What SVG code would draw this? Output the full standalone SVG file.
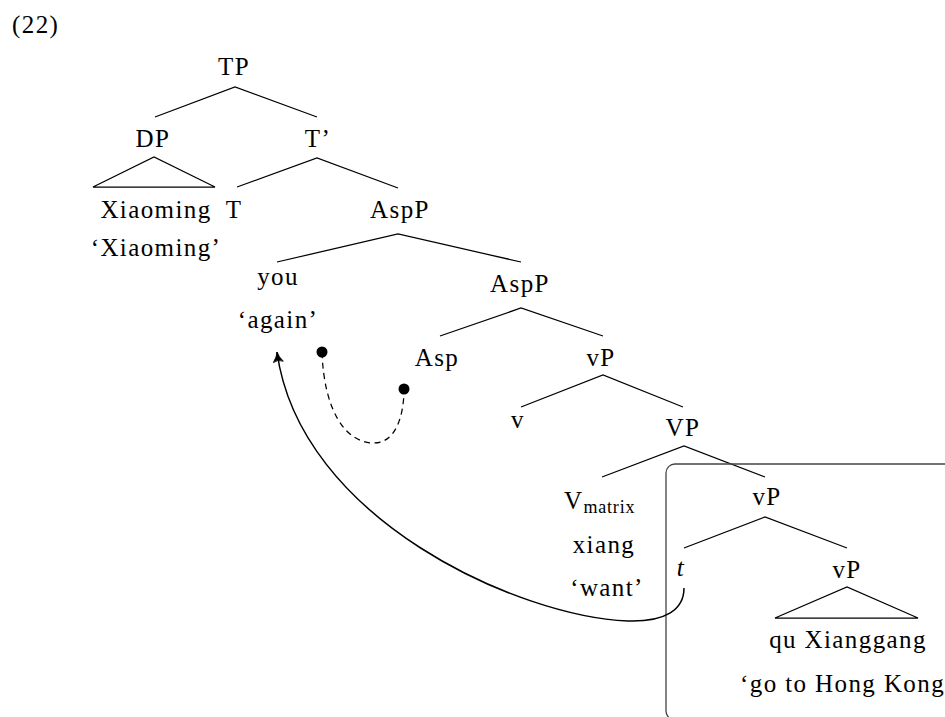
<svg xmlns="http://www.w3.org/2000/svg" width="945" height="717" viewBox="0 0 945 717">
<style>
text{font-family:"Liberation Serif","Times New Roman",serif;font-size:25px;fill:#000;letter-spacing:1.4px}
.m{text-anchor:middle}
.sub{font-size:18px;letter-spacing:0.8px}
.it{font-style:italic}
.e{stroke:#000;stroke-width:1.25;fill:none}
.mv{stroke:#000;stroke-width:1.5;fill:none}
.box{stroke:#444;stroke-width:1.3;fill:none}
</style>
<defs>
<marker id="arr" markerWidth="14" markerHeight="14" refX="11" refY="6" orient="auto" markerUnits="userSpaceOnUse" viewBox="0 0 14 12">
<path d="M1,1 Q6,5 11,6 Q6,7 1,11 Q4,6 1,1 Z" fill="#000" stroke="#000" stroke-width="0.8" stroke-linejoin="round"/>
</marker>
</defs>
<rect width="945" height="717" fill="#fff"/>
<text x="12" y="33">(22)</text>
<g id="connectors">
<path class="e" d="M155,117 L235,87 L317,117"/>
<path class="e" d="M237,187 L317,158 L398,188"/>
<path class="e" d="M277,262 L398,234 L521,262"/>
<path class="e" d="M440,336 L521,308 L603,336"/>
<path class="e" d="M521,407 L603,375 L683,407"/>
<path class="e" d="M602,477 L684,446 L765,477"/>
<path class="e" d="M684,548 L765,517 L847,548"/>
</g>
<g id="box"><rect class="box" x="666" y="464" width="420" height="256" rx="9"/></g>
<g id="n-TP"><text class="m" x="234" y="75">TP</text></g>
<g id="n-DP"><text class="m" x="153" y="147">DP</text>
<path class="e" d="M93,187 L154,157 L215,187 Z"/>
<text class="m" x="156" y="218">Xiaoming</text>
<text class="m" x="156" y="256">‘Xiaoming’</text></g>
<g id="n-Tbar"><text class="m" x="318" y="147">T’</text></g>
<g id="n-T"><text class="m" x="234" y="218">T</text></g>
<g id="n-AspP1"><text class="m" x="400" y="218">AspP</text></g>
<g id="n-you"><text class="m" x="278" y="285">you</text>
<text class="m" x="278" y="328">‘again’</text></g>
<g id="n-AspP2"><text class="m" x="520" y="292">AspP</text></g>
<g id="n-Asp"><text class="m" x="437" y="366">Asp</text></g>
<g id="n-vP1"><text class="m" x="601" y="366">vP</text></g>
<g id="n-v"><text class="m" x="518" y="428">v</text></g>
<g id="n-VP"><text class="m" x="683" y="436">VP</text></g>
<g id="n-Vmatrix"><text x="564" y="509">V<tspan class="sub" dy="4">matrix</tspan></text>
<text class="m" x="604" y="553">xiang</text>
<text class="m" x="607" y="596">‘want’</text></g>
<g id="n-vP2"><text class="m" x="767" y="505">vP</text></g>
<g id="n-t"><text class="m it" x="681" y="576">t</text></g>
<g id="n-vP3"><text class="m" x="847" y="578">vP</text>
<path class="e" d="M775,618 L847,587 L918,618 Z"/>
<text class="m" x="848" y="648">qu Xianggang</text>
<text x="740" y="692">‘go to Hong Kong’</text></g>
<g id="movement">
<path class="mv" d="M684,588 C684,610 665,622 628,621 C520,617 300,520 277,352" marker-end="url(#arr)"/>
<path class="e" stroke-dasharray="6,4.5" d="M322,352 C324,410 345,443 374,443 C396,443 404,415 404,389"/>
<circle cx="322" cy="352" r="5.5" fill="#000"/>
<circle cx="404" cy="389" r="5.5" fill="#000"/>
</g>
</svg>
